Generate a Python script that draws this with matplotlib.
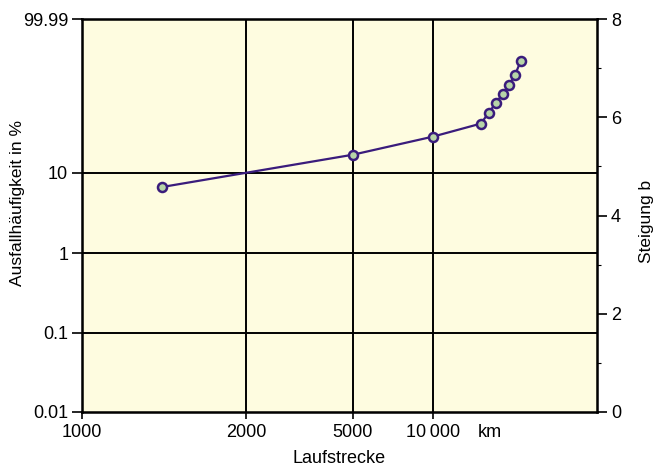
import numpy as np
import matplotlib
matplotlib.use('Agg')
import matplotlib.pyplot as plt
from matplotlib.ticker import NullLocator, MultipleLocator

plt.rcParams['font.family'] = ['Liberation Sans', 'DejaVu Sans']
plt.rcParams['font.size'] = 13

# Laufstrecke in km and Ausfallhaeufigkeit in %
km = [1400, 5000, 10000, 15000, 16000, 17000, 18000, 19000, 20000, 21000]
ausfall = [6.7, 16.3, 26.0, 35.6, 45.2, 54.8, 64.4, 74.0, 83.7, 93.3]

x_ticks = [1000, 2000, 5000, 10000]
x_labels = ['1000', '2000', '5000', '10\u2009000']
y_ticks = [0.01, 0.1, 1, 10, 99.99]
y_labels = ['0.01', '0.1', '1', '10', '99.99']
b_ticks = [0, 2, 4, 6, 8]

# the km axis of the drawing is not evenly logarithmic, so map it piecewise
lx = [0, 3, np.log10(2000), np.log10(5000), 4, np.log10(40000), 10]
px = [-1634.6, 0, 164, 271, 351, 515, 1985]

def x_fwd(x):
    return np.interp(np.log10(np.clip(x, 1e-9, None)), lx, px)

def x_inv(p):
    return 10 ** np.interp(p, px, lx)

def w_fwd(f):
    f = np.clip(np.asarray(f, dtype=float), 1e-9, 100 - 1e-9)
    return np.log(-np.log(1 - f / 100))

def w_inv(w):
    return 100 * (1 - np.exp(-np.exp(w)))

fig = plt.figure(figsize=(6.53, 4.66), dpi=100)
ax = fig.add_axes([0.1256, 0.1159, 0.7886, 0.8433])
ax.set_facecolor('#fefce0')

ax.set_xscale('function', functions=(x_fwd, x_inv))
ax.set_yscale('function', functions=(w_fwd, w_inv))
ax.set_xlim(1000, 40000)
ax.set_ylim(0.01, 99.99)

for t in x_ticks[1:]:
    ax.axvline(t, color='black', lw=1.4, zorder=1)
for t in y_ticks[1:-1]:
    ax.axhline(t, color='black', lw=1.4, zorder=1)

ax.plot(km, ausfall, color='#3a1c7c', lw=1.6, marker='o', ms=6.5,
        mfc='#b7d5a8', mec='#3a1c7c', mew=1.8, zorder=3)

ax.set_xticks(x_ticks)
ax.set_xticklabels(x_labels)
ax.set_yticks(y_ticks)
ax.set_yticklabels(y_labels)
ax.xaxis.set_minor_locator(NullLocator())
ax.yaxis.set_minor_locator(NullLocator())
ax.tick_params(axis='x', direction='out', length=5, width=1.2, pad=4)
ax.tick_params(axis='y', direction='out', length=7, width=1.2, pad=3)
ax.annotate('km', xy=(16200, 0), xycoords=ax.get_xaxis_transform(),
            xytext=(0, -9), textcoords='offset points', ha='center', va='top')
ax.set_xlabel('Laufstrecke', labelpad=6)
ax.set_ylabel('Ausfallhäufigkeit in %', fontsize=12.5)
ax.yaxis.set_label_coords(-0.111, 0.532)
for s in ax.spines.values():
    s.set_linewidth(1.8)

ax2 = ax.twinx()
ax2.set_ylim(0, 8)
ax2.set_yticks(b_ticks)
ax2.yaxis.set_minor_locator(MultipleLocator(1))
ax2.tick_params(which='major', direction='out', length=7, width=1.2, pad=3)
ax2.tick_params(which='minor', direction='out', length=3, width=0.8)
ax2.set_ylabel('Steigung b', fontsize=12.5, rotation=90)
ax2.yaxis.set_label_coords(1.081, 0.486)

plt.savefig('out.png', dpi=100)
